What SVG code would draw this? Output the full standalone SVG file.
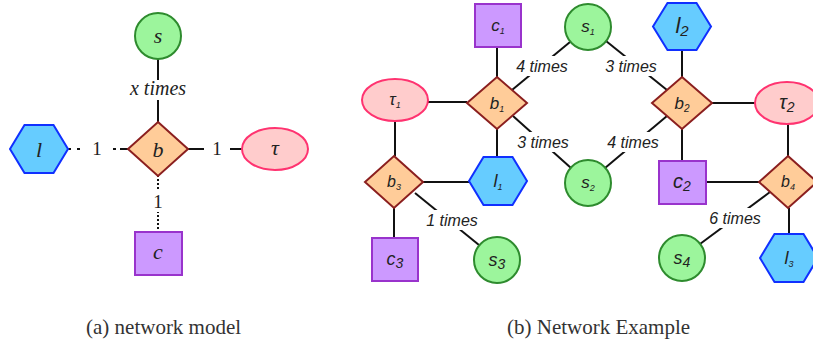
<svg xmlns="http://www.w3.org/2000/svg" width="813" height="345" viewBox="0 0 813 345">
<style>
.circ{fill:#9cf59c;stroke:#2e8b2e;stroke-width:2}
.dia{fill:#ffcc99;stroke:#8b1f1f;stroke-width:2}
.hex{fill:#66ccff;stroke:#1030ff;stroke-width:2}
.ell{fill:#ffcccc;stroke:#ff3370;stroke-width:2}
.sq{fill:#cc99ff;stroke:#9933cc;stroke-width:2}
.ln{stroke:#111;stroke-width:2;fill:none}
.dot1{stroke:#111;stroke-width:2;fill:none;stroke-dasharray:3,6}
.dot2{stroke:#111;stroke-width:2;fill:none;stroke-dasharray:2,2}
.bg{fill:#fff}
.lt{font-family:"Liberation Serif",serif;font-style:italic;font-size:22px;fill:#222;text-anchor:middle}
.el{font-family:"Liberation Serif",serif;font-style:italic;font-size:20px;fill:#222;text-anchor:middle}
.one{font-family:"Liberation Serif",serif;font-size:19px;fill:#222;text-anchor:middle}
.rt{font-family:"Liberation Sans",sans-serif;font-style:italic;fill:#222;text-anchor:middle}
.rl{font-family:"Liberation Sans",sans-serif;font-style:italic;font-size:16px;fill:#222;text-anchor:middle}
.cap{font-family:"Liberation Serif",serif;font-size:21px;fill:#333}
</style>
<g id="connectors">
  <line class="ln" x1="158" y1="59" x2="158" y2="123"/>
  <line class="dot1" x1="68" y1="149" x2="121" y2="149"/>
  <line class="ln" x1="120" y1="149" x2="128" y2="149"/>
  <line class="ln" x1="188" y1="149" x2="242" y2="149"/>
  <line class="dot2" x1="158" y1="175" x2="158" y2="232"/>
  <rect class="bg" x="126" y="80" width="64" height="20"/>
  <text class="el" x="158" y="95">x times</text>
  <rect class="bg" x="83" y="139" width="28" height="20"/>
  <text class="one" x="97" y="155">1</text>
  <rect class="bg" x="204" y="139" width="26" height="20"/>
  <text class="one" x="217" y="155">1</text>
  <rect class="bg" x="148" y="191" width="20" height="21"/>
  <text class="one" x="158" y="208">1</text>

  <line class="ln" x1="497" y1="47" x2="497" y2="77"/>
  <line class="ln" x1="428" y1="102" x2="467" y2="102"/>
  <line class="ln" x1="512" y1="90" x2="570" y2="42"/>
  <line class="ln" x1="513" y1="116" x2="571" y2="168"/>
  <line class="ln" x1="497" y1="129" x2="497" y2="157"/>
  <line class="ln" x1="395" y1="121" x2="395" y2="156"/>
  <line class="ln" x1="423" y1="182" x2="469" y2="182"/>
  <line class="ln" x1="394" y1="208" x2="394" y2="238"/>
  <line class="ln" x1="415" y1="193" x2="479" y2="245"/>
  <line class="ln" x1="606" y1="41" x2="667" y2="90"/>
  <line class="ln" x1="667" y1="116" x2="605" y2="168"/>
  <line class="ln" x1="682" y1="50" x2="682" y2="77"/>
  <line class="ln" x1="712" y1="103" x2="755" y2="103"/>
  <line class="ln" x1="682" y1="129" x2="682" y2="161"/>
  <line class="ln" x1="788" y1="124" x2="788" y2="156"/>
  <line class="ln" x1="706" y1="182" x2="759" y2="182"/>
  <line class="ln" x1="789" y1="208" x2="789" y2="234"/>
  <line class="ln" x1="770" y1="192" x2="700" y2="244"/>
  <rect class="bg" x="515" y="56" width="55" height="20"/>
  <text class="rl" x="542" y="72">4 times</text>
  <rect class="bg" x="516" y="132" width="55" height="20"/>
  <text class="rl" x="543" y="148">3 times</text>
  <rect class="bg" x="604" y="56" width="55" height="20"/>
  <text class="rl" x="631" y="72">3 times</text>
  <rect class="bg" x="606" y="132" width="55" height="20"/>
  <text class="rl" x="633" y="148">4 times</text>
  <rect class="bg" x="425" y="210" width="55" height="20"/>
  <text class="rl" x="452" y="226">1 times</text>
  <rect class="bg" x="708" y="208" width="55" height="20"/>
  <text class="rl" x="735" y="224">6 times</text>
</g>
<g id="a-s"><circle class="circ" cx="158" cy="36" r="23"/><text class="lt" x="158" y="43">s</text></g>
<g id="a-b"><polygon class="dia" points="158,122 188,149 158,176 128,149"/><text class="lt" x="158" y="157">b</text></g>
<g id="a-l"><polygon class="hex" points="10,149 24.5,125 53.5,125 68,149 53.5,173 24.5,173"/><text class="lt" x="39" y="157">l</text></g>
<g id="a-tau"><ellipse class="ell" cx="275" cy="149" rx="33" ry="21"/><text class="lt" x="275" y="155">τ</text></g>
<g id="a-c"><rect class="sq" x="135" y="232" width="47" height="43"/><text class="lt" x="158" y="259">c</text></g>

<g id="c1"><rect class="sq" x="475" y="4" width="46" height="43"/><text class="rt" x="498" y="31" font-size="17">c<tspan font-size="9" dy="3">1</tspan></text></g>
<g id="s1"><circle class="circ" cx="588" cy="27" r="23"/><text class="rt" x="588" y="32" font-size="17">s<tspan font-size="9" dy="3">1</tspan></text></g>
<g id="l2"><polygon class="hex" points="653,26.5 667.5,3 696.5,3 711,26.5 696.5,50 667.5,50"/><text class="rt" x="682" y="33" font-size="22">l<tspan font-size="15" dy="3">2</tspan></text></g>
<g id="tau1"><ellipse class="ell" cx="395" cy="100" rx="33" ry="21"/><text class="rt" x="395" y="105" font-size="17">τ<tspan font-size="9" dy="3">1</tspan></text></g>
<g id="b1"><polygon class="dia" points="497,77 527,103 497,129 467,103"/><text class="rt" x="497" y="109" font-size="17">b<tspan font-size="9" dy="3">1</tspan></text></g>
<g id="b2"><polygon class="dia" points="682,77 712,103 682,129 652,103"/><text class="rt" x="682" y="109" font-size="17">b<tspan font-size="10" dy="3">2</tspan></text></g>
<g id="tau2"><ellipse class="ell" cx="787" cy="103" rx="32" ry="21"/><text class="rt" x="787" y="109" font-size="20">τ<tspan font-size="14" dy="3">2</tspan></text></g>
<g id="b3"><polygon class="dia" points="394,156 423,182 394,208 365,182"/><text class="rt" x="394" y="187" font-size="16">b<tspan font-size="9" dy="3">3</tspan></text></g>
<g id="l1"><polygon class="hex" points="469,181 483.5,157 512.5,157 527,181 512.5,205 483.5,205"/><text class="rt" x="498" y="187" font-size="18">l<tspan font-size="9" dy="3">1</tspan></text></g>
<g id="s2"><circle class="circ" cx="588" cy="183" r="23"/><text class="rt" x="588" y="188" font-size="17">s<tspan font-size="9" dy="3">2</tspan></text></g>
<g id="c2"><rect class="sq" x="659" y="161" width="47" height="43"/><text class="rt" x="682" y="188" font-size="20">c<tspan font-size="14" dy="3">2</tspan></text></g>
<g id="b4"><polygon class="dia" points="788,156 817,182 788,208 759,182"/><text class="rt" x="788" y="187" font-size="16">b<tspan font-size="9" dy="3">4</tspan></text></g>
<g id="c3"><rect class="sq" x="372" y="238" width="46" height="43"/><text class="rt" x="395" y="265" font-size="18">c<tspan font-size="14" dy="3">3</tspan></text></g>
<g id="s3"><circle class="circ" cx="497" cy="260" r="23"/><text class="rt" x="497" y="266" font-size="18">s<tspan font-size="14" dy="3">3</tspan></text></g>
<g id="s4"><circle class="circ" cx="682" cy="258" r="23"/><text class="rt" x="682" y="264" font-size="18">s<tspan font-size="14" dy="3">4</tspan></text></g>
<g id="l3"><polygon class="hex" points="760,258 774.5,234 803.5,234 818,258 803.5,282 774.5,282"/><text class="rt" x="789" y="264" font-size="18">l<tspan font-size="9" dy="3">3</tspan></text></g>

<text class="cap" x="86" y="334">(a) network model</text>
<text class="cap" x="507" y="334">(b) Network Example</text>
</svg>
